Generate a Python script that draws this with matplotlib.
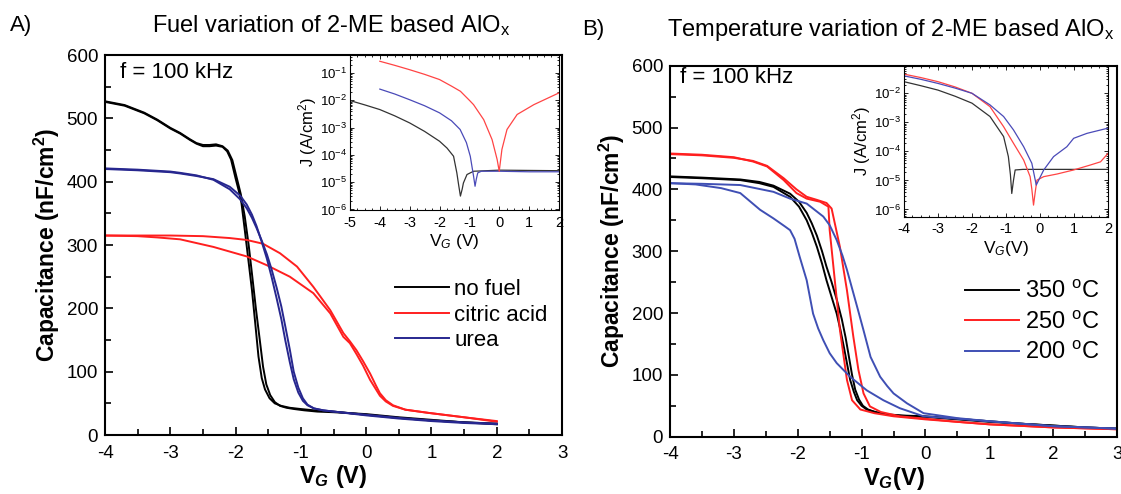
import matplotlib
matplotlib.use('Agg')
import matplotlib.pyplot as plt
from matplotlib.ticker import MultipleLocator, LogLocator, NullFormatter
import numpy as np

plt.rcParams['font.family'] = ['Liberation Sans', 'DejaVu Sans']
plt.rcParams['mathtext.fontset'] = 'custom'
plt.rcParams['mathtext.rm'] = 'Liberation Sans'
plt.rcParams['mathtext.it'] = 'Liberation Sans:italic'
plt.rcParams['mathtext.bf'] = 'Liberation Sans:bold'
plt.rcParams['mathtext.bfit'] = 'Liberation Sans:italic:bold'
plt.rcParams['axes.unicode_minus'] = False

# ---------------- panel A : C-V, fuel variation ----------------
nofuel_v1 = [-4, -3.7, -3.4, -3.2, -3.0, -2.85, -2.7, -2.6, -2.5, -2.4, -2.3, -2.2, -2.13, -2.07, -2.0, -1.95,
             -1.91, -1.86, -1.81, -1.75, -1.70, -1.65, -1.60, -1.55, -1.48, -1.40, -1.30, -1.17, -1.0, -0.8,
             -0.5, 0, 0.5, 1, 1.5, 2]
nofuel_c1 = [526, 520, 508, 497, 484, 476, 466, 460, 456, 456, 457, 455, 448, 435, 405, 385,
             366, 324, 281, 229, 177, 124, 90, 72, 58, 50, 46, 43, 41, 39,
             37, 32, 27, 23, 20, 17]
nofuel_v2 = [-4, -3.7, -3.4, -3.2, -3.0, -2.85, -2.7, -2.6, -2.5, -2.4, -2.3, -2.2, -2.12, -2.05, -1.98, -1.92,
             -1.86, -1.80, -1.75, -1.69, -1.63, -1.58, -1.53, -1.47, -1.40, -1.32, -1.22, -1.1, -0.95, -0.75,
             -0.5, 0, 0.5, 1, 1.5, 2]
nofuel_c2 = [527, 521, 509, 498, 485, 477, 467, 461, 458, 458, 459, 456, 449, 434, 405, 380,
             345, 300, 255, 200, 150, 108, 80, 63, 52, 46, 43, 41, 39, 37,
             36, 33, 28, 24, 20, 18]

urea_v1 = [-4, -3.5, -3.0, -2.85, -2.6, -2.34, -2.09, -1.93, -1.83, -1.75, -1.68, -1.60, -1.52, -1.45, -1.37,
           -1.30, -1.24, -1.17, -1.11, -1.04, -0.97, -0.9, -0.8, -0.66, -0.5, 0, 0.5, 1, 1.5, 2]
urea_c1 = [420, 418, 415, 413, 409, 404, 392, 378, 364, 348, 330, 305, 278, 250, 215,
           183, 150, 115, 88, 67, 54, 47, 42, 39, 37, 31, 26, 22, 19, 17]
urea_v2 = urea_v1
urea_c2 = [421, 419, 416, 414, 410, 403, 388, 372, 358, 343, 327, 307, 285, 262, 232,
           203, 172, 135, 100, 75, 58, 48, 42, 39, 37, 32, 27, 23, 20, 18]

citric_v1 = [-4, -3.5, -3.0, -2.5, -2.09, -1.83, -1.58, -1.32, -1.06, -0.81, -0.55, -0.35, -0.25, -0.15,
             -0.05, 0.06, 0.15, 0.21, 0.3, 0.41, 0.6, 0.95, 1.5, 2]
citric_c1 = [315, 315, 315, 314, 311, 308, 302, 287, 266, 234, 197, 161, 148, 134,
             117, 97, 78, 66, 55, 47, 40, 35, 28, 22]
citric_v2 = [-4, -3.5, -3.2, -2.85, -2.34, -1.83, -1.52, -1.17, -0.81, -0.55, -0.35, -0.25, -0.15, -0.05,
             0.06, 0.15, 0.21, 0.3, 0.41, 0.6, 0.95, 1.5, 2]
citric_c2 = [315, 314, 312, 309, 297, 282, 268, 250, 224, 192, 155, 145, 128, 110,
             87, 72, 62, 53, 46, 40, 35, 28, 21]

# inset A : J-V (log10 J)
jA_nofuel_v = [-5, -4.5, -4, -3.5, -3, -2.5, -2, -1.75, -1.53, -1.42, -1.36, -1.30, -1.24, -1.2, -1.08, -0.86, 0, 1, 2]
jA_nofuel_l = [-2.01, -2.17, -2.34, -2.57, -2.83, -3.14, -3.5, -3.75, -4.05, -4.66, -5.1, -5.51, -5.25, -5.03,
               -4.72, -4.6, -4.56, -4.57, -4.58]
jA_urea_v = [-4, -3.5, -3, -2.5, -2, -1.6, -1.31, -1.1, -0.97, -0.86, -0.81, -0.77, -0.72, -0.6, 0, 1, 2]
jA_urea_l = [-1.59, -1.77, -1.98, -2.2, -2.46, -2.75, -3.07, -3.55, -4.05, -4.78, -5.15, -4.9, -4.66, -4.6,
             -4.6, -4.62, -4.62]
jA_citric_v = [-4, -3.5, -3, -2.5, -2, -1.6, -1.3, -1.0, -0.86, -0.52, -0.24, -0.07, 0.0, 0.09, 0.26, 0.6, 1.16, 2]
jA_citric_l = [-0.57, -0.72, -0.88, -1.05, -1.24, -1.48, -1.67, -2.0, -2.16, -2.71, -3.44, -4.17, -4.6,
               -3.8, -3.07, -2.52, -2.16, -1.73]

# ---------------- panel B : C-V, temperature variation ----------------
t350_v1 = [-4, -3.5, -2.9, -2.6, -2.38, -2.12, -1.98, -1.86, -1.78, -1.70, -1.62, -1.55, -1.47, -1.39, -1.33,
           -1.28, -1.23, -1.18, -1.12, -1.07, -1.0, -0.92, -0.75, -0.56, -0.3, 0, 0.5, 1, 1.5, 2, 2.5, 3]
t350_c1 = [420, 418, 415, 410, 404, 388, 372, 350, 330, 307, 280, 253, 226, 199, 172,
           146, 119, 92, 72, 59, 50, 44, 39, 35, 33, 32, 28, 24, 21, 18, 15, 13]
t350_v2 = [-4, -3.5, -2.9, -2.6, -2.38, -2.12, -1.98, -1.86, -1.78, -1.70, -1.62, -1.55, -1.47, -1.39, -1.31,
           -1.25, -1.20, -1.15, -1.10, -1.04, -0.98, -0.9, -0.8, -0.6, -0.3, 0, 0.5, 1, 1.5, 2, 2.5, 3]
t350_c2 = [421, 419, 416, 412, 406, 393, 380, 362, 345, 325, 300, 275, 250, 222, 190,
           160, 130, 100, 76, 60, 50, 44, 40, 36, 34, 33, 29, 25, 21, 18, 15, 13]

t250_v1 = [-4, -3.5, -3, -2.7, -2.48, -2.22, -2.02, -1.86, -1.65, -1.52, -1.50, -1.42, -1.34, -1.23, -1.15,
           -1.02, -0.8, -0.5, 0, 0.5, 1, 2, 3]
t250_c1 = [458, 456, 452, 445, 437, 415, 394, 385, 380, 372, 334, 253, 173, 92, 59,
           44, 38, 33, 28, 24, 20, 15, 12]
t250_v2 = [-4, -3.5, -3, -2.7, -2.48, -2.22, -2.02, -1.86, -1.70, -1.55, -1.47, -1.34, -1.23, -1.13, -1.05,
           -0.97, -0.87, -0.7, -0.4, 0, 0.5, 1, 2, 3]
t250_c2 = [457, 455, 451, 446, 438, 418, 400, 388, 383, 378, 369, 307, 237, 162, 108,
           70, 49, 40, 33, 29, 24, 20, 15, 12]

t200_v1 = [-4, -3.6, -3.2, -2.9, -2.59, -2.38, -2.2, -2.12, -2.05, -1.97, -1.86, -1.76, -1.68, -1.60, -1.50,
           -1.39, -1.18, -0.92, -0.66, -0.40, -0.03, 0.5, 1, 1.5, 2, 2.5, 3]
t200_c1 = [410, 408, 402, 394, 367, 353, 340, 334, 320, 291, 253, 199, 175, 156, 135,
           119, 97, 75, 59, 46, 33, 29, 25, 21, 17, 15, 13]
t200_v2 = [-4, -3.5, -2.9, -2.38, -2.12, -1.86, -1.60, -1.50, -1.39, -1.30, -1.23, -1.15, -1.07, -0.97, -0.86,
           -0.71, -0.60, -0.50, -0.29, -0.03, 0.5, 1, 1.5, 2, 2.5, 3]
t200_c2 = [410, 409, 407, 396, 385, 377, 356, 342, 318, 293, 270, 240, 210, 172, 129,
           97, 82, 70, 54, 38, 30, 25, 21, 17, 15, 13]

# inset B : J-V (log10 J)
jB_350_v = [-4, -3.5, -3, -2.5, -2, -1.47, -1.07, -0.93, -0.87, -0.83, -0.78, -0.73, -0.5, 0, 1, 2]
jB_350_l = [-1.6, -1.74, -1.89, -2.1, -2.34, -2.8, -3.49, -4.18, -4.8, -5.45, -5.0, -4.64, -4.62, -4.62, -4.62, -4.62]
jB_250_v = [-4, -3.5, -3, -2.5, -2, -1.47, -1.07, -0.78, -0.48, -0.29, -0.24, -0.19, -0.14, -0.09, 0.11, 0.5,
            0.99, 1.48, 1.78, 2]
jB_250_l = [-1.34, -1.46, -1.6, -1.78, -2.0, -2.46, -3.15, -3.72, -4.3, -4.87, -5.3, -5.85, -5.4, -4.99, -4.87,
            -4.78, -4.64, -4.47, -4.36, -4.07]
jB_200_v = [-4, -3.5, -3, -2.5, -2, -1.47, -1.07, -0.78, -0.48, -0.24, -0.11, 0.11, 0.4, 0.79, 0.99, 1.38, 2]
jB_200_l = [-1.4, -1.52, -1.66, -1.82, -2.0, -2.4, -2.8, -3.26, -3.84, -4.41, -5.16, -4.64, -4.18, -3.84,
            -3.55, -3.38, -3.2]

red = '#ff1f1f'
navy = '#27278f'
blue = '#3f4fb4'

fig = plt.figure(figsize=(11.21, 4.94), dpi=100)


def style_main(ax):
    ax.set_xlim(-4, 3)
    ax.set_ylim(0, 600)
    ax.xaxis.set_major_locator(MultipleLocator(1))
    ax.xaxis.set_minor_locator(MultipleLocator(0.5))
    ax.yaxis.set_major_locator(MultipleLocator(100))
    ax.yaxis.set_minor_locator(MultipleLocator(50))
    ax.tick_params(which='both', direction='in', top=False, right=False, labelsize=13.5, width=1.2)
    ax.tick_params(which='major', length=6)
    ax.tick_params(which='minor', length=4)
    ax.tick_params(axis='x', pad=7)
    ax.tick_params(axis='y', pad=5)
    for s in ax.spines.values():
        s.set_linewidth(1.5)
    ax.set_ylabel(r'Capacitance (nF/cm$^{\mathbf{2}}$)', fontsize=16.5, fontweight='bold', labelpad=3)


def style_inset(ax, xmin, ylo, yhi):
    ax.set_yscale('log')
    ax.set_xlim(xmin, 2)
    ax.set_ylim(10 ** ylo, 10 ** yhi)
    ax.xaxis.set_major_locator(MultipleLocator(1))
    ax.xaxis.set_minor_locator(MultipleLocator(0.25))
    ax.yaxis.set_major_locator(LogLocator(base=10, numticks=10))
    ax.yaxis.set_minor_locator(LogLocator(base=10, subs=np.arange(2, 10), numticks=10))
    ax.yaxis.set_minor_formatter(NullFormatter())
    ax.tick_params(which='both', direction='in', top=True, right=True, width=0.6)
    ax.tick_params(which='major', length=3)
    ax.tick_params(which='minor', length=1.5)
    ax.tick_params(axis='x', labelsize=10.5, pad=4)
    ax.tick_params(axis='y', labelsize=9.5, pad=2)
    for s in ax.spines.values():
        s.set_linewidth(0.8)
    ax.set_ylabel(r'J (A/cm$^2$)', fontsize=12, labelpad=1)


# ---- panel A
axA = fig.add_axes([0.0937, 0.1194, 0.4077, 0.7692])
axA.plot(nofuel_v1, nofuel_c1, color='black', lw=1.4)
axA.plot(nofuel_v2, nofuel_c2, color='black', lw=1.4, label='no fuel')
axA.plot(citric_v1, citric_c1, color=red, lw=1.4)
axA.plot(citric_v2, citric_c2, color=red, lw=1.4, label='citric acid')
axA.plot(urea_v1, urea_c1, color=navy, lw=1.4)
axA.plot(urea_v2, urea_c2, color=navy, lw=1.4, label='urea')
style_main(axA)
axA.set_xlabel(r'V$_{\mathbfit{G}}$ (V)', fontsize=17, fontweight='bold', labelpad=1)
axA.text(0.033, 0.955, 'f = 100 kHz', transform=axA.transAxes, fontsize=16, va='center')
axA.legend(loc='upper left', bbox_to_anchor=(0.635, 0.41), frameon=False, fontsize=16,
           handlelength=2.4, handletextpad=0.25, labelspacing=0.2, borderpad=0, borderaxespad=0)

insA = fig.add_axes([0.3122, 0.5749, 0.1864, 0.3138])
insA.plot(jA_nofuel_v, 10 ** np.array(jA_nofuel_l), color='#333333', lw=0.9)
insA.plot(jA_urea_v, 10 ** np.array(jA_urea_l), color='#4a4ab8', lw=0.9)
insA.plot(jA_citric_v, 10 ** np.array(jA_citric_l), color='#ff4444', lw=0.9)
style_inset(insA, -5, -6.02, -0.34)
insA.set_xlabel(r'V$_G$ (V)', fontsize=12.5, labelpad=2)

# ---- panel B
axB = fig.add_axes([0.5977, 0.116, 0.3988, 0.751])
axB.plot(t350_v1, t350_c1, color='black', lw=1.4)
axB.plot(t350_v2, t350_c2, color='black', lw=1.4, label=r'350 $^{\mathrm{o}}$C')
axB.plot(t250_v1, t250_c1, color=red, lw=1.4)
axB.plot(t250_v2, t250_c2, color=red, lw=1.4, label=r'250 $^{\mathrm{o}}$C')
axB.plot(t200_v1, t200_c1, color=blue, lw=1.4)
axB.plot(t200_v2, t200_c2, color=blue, lw=1.4, label=r'200 $^{\mathrm{o}}$C')
style_main(axB)
axB.set_xlabel(r'V$_{\mathbfit{G}}$(V)', fontsize=17, fontweight='bold', labelpad=1)
axB.text(0.022, 0.967, 'f = 100 kHz', transform=axB.transAxes, fontsize=16, va='center')
axB.legend(loc='upper left', bbox_to_anchor=(0.66, 0.42), frameon=False, fontsize=17,
           handlelength=2.3, handletextpad=0.25, labelspacing=0.35, borderpad=0, borderaxespad=0)

insB = fig.add_axes([0.8064, 0.5613, 0.182, 0.3057])
insB.plot(jB_350_v, 10 ** np.array(jB_350_l), color='#333333', lw=0.9)
insB.plot(jB_250_v, 10 ** np.array(jB_250_l), color='#ff4444', lw=0.9)
insB.plot(jB_200_v, 10 ** np.array(jB_200_l), color='#4a4ab8', lw=0.9)
style_inset(insB, -4, -6.25, -1.05)
insB.set_xlabel(r'V$_G$(V)', fontsize=12.5, labelpad=2)

# panel letters and titles
fig.text(0.009, 0.948, 'A)', fontsize=16, va='center')
fig.text(0.295, 0.948, r'Fuel variation of 2-ME based AlO$_{\mathrm{x}}$', fontsize=17, ha='center', va='center')
fig.text(0.519, 0.94, 'B)', fontsize=16, va='center')
fig.text(0.795, 0.94, r'Temperature variation of 2-ME based AlO$_{\mathrm{x}}$', fontsize=17, ha='center', va='center')

fig.savefig('out.png', dpi=100)
